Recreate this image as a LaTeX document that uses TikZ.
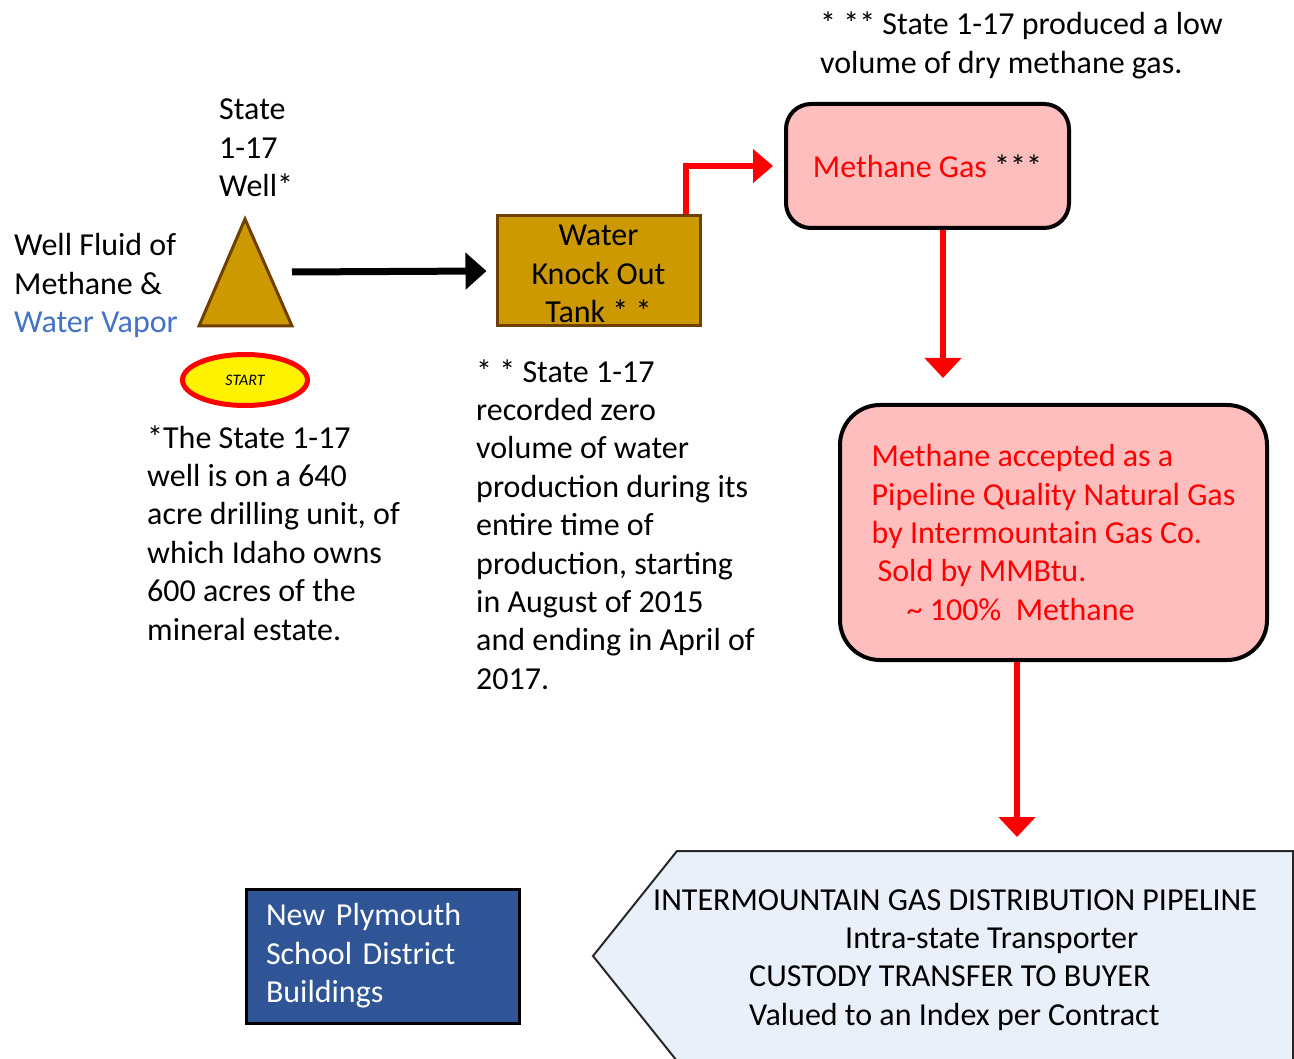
\documentclass[tikz,border=0pt]{standalone}
\usepackage{fontspec}
\setmainfont{Carlito}
\usetikzlibrary{arrows.meta,calc,shapes.geometric}
\definecolor{gold}{RGB}{204,153,0}
\definecolor{brownb}{RGB}{112,64,0}
\definecolor{pinkf}{RGB}{255,190,190}
\definecolor{bluet}{RGB}{68,114,196}
\definecolor{navy}{RGB}{47,85,151}
\definecolor{paleblue}{RGB}{233,240,249}
\begin{document}
\begin{tikzpicture}[x=1pt,y=-1pt,
  bigfont/.style={font=\fontsize{32}{38.4}\selectfont},
  txt/.style={bigfont, inner sep=0pt, anchor=base west, align=left},
  blackarrow/.style={line width=7pt, -{Triangle[length=21pt,width=36pt]}},
  redarrow/.style={draw=red, line width=6pt, -{Triangle[length=20pt,width=36pt]}},
  redelbow/.style={draw=red, line width=6pt, -{Triangle[length=20pt,width=33pt]}},
  goldbox/.style={draw=brownb, fill=gold, line width=3pt},
  pinkbox/.style={draw=black, fill=pinkf, line width=4pt, bigfont},
]
\useasboundingbox (0,0) rectangle (1294,1059);
\clip (0,0) rectangle (1294,1059);

% well triangle
\draw[goldbox] (245,219) -- (292,326) -- (199,326) -- cycle;
\coordinate (trir) at (292,272);

% start ellipse
\node (start) [ellipse, draw=red, fill=yellow, line width=5pt, minimum width=125pt, minimum height=51pt, inner sep=0pt, font=\itshape\fontsize{16}{18}\selectfont] at (245,380) {START};

% tank
\node (tank) [goldbox, rectangle, minimum width=203pt, minimum height=110pt, inner sep=0pt, align=center, bigfont] at (598.5,271) {\rule{0pt}{27pt}Water\\Knock Out\\Tank * *};

% methane gas
\node (meth) [pinkbox, rounded corners=25pt, minimum width=283pt, minimum height=124pt] at (927.5,166) {\textcolor{red}{Methane Gas} ***};

% accepted box
\node (accept) [pinkbox, rounded corners=40pt, minimum width=427pt, minimum height=255pt, align=left, text=red] at (1053.5,532.5) {Methane accepted as a\\Pipeline Quality Natural Gas\\by Intermountain Gas Co.\\\hspace*{6pt}Sold by MMBtu.\\\hspace*{35pt}\textasciitilde\ 100\%\ \ Methane};

% school box
\node (school) [draw=black, fill=navy, line width=3pt, minimum width=273pt, minimum height=134pt, text width=233pt, inner xsep=20pt, align=left, text=white, bigfont] at (382.5,956) {New Plymouth\\School District\\Buildings};

% pipeline pentagon
\draw[fill=paleblue, draw=black!85, line width=2pt] (677,851) -- (1293,851) -- (1293,1061) -- (677,1061) -- (593,956) -- cycle;
\node (pipetext) [txt] at (653,1025.2) {INTERMOUNTAIN GAS DISTRIBUTION PIPELINE\\\hspace*{192pt}Intra-state Transporter\\\hspace*{96pt}CUSTODY TRANSFER TO BUYER\\\hspace*{96pt}Valued to an Index per Contract};

% connectors
\coordinate (tk) at (686,0);
\coordinate (p1) at (943,378);
\coordinate (p2) at (1017,837);
\draw[blackarrow] (trir) -- ([xshift=-9pt]tank.west);
\draw[redelbow] (tank.north -| tk) |- ([xshift=-11pt]meth.west);
\draw[redarrow] (meth.south -| p1) -- (p1);
\draw[redarrow] (accept.south -| p2) -- (p2);

% texts (anchored at the baseline of the last line)
\node (wellname) [txt] at (219,196.8) {State\\1-17\\Well*};
\node (fluid) [txt] at (14,332.8) {Well Fluid of\\Methane \&\\\textcolor{bluet}{Water Vapor}};
\node (note1) [txt] at (147,640) {*The State 1-17\\well is on a 640\\acre drilling unit, of\\which Idaho owns\\600 acres of the\\mineral estate.};
\node (note2) [txt] at (476,689.2) {* * State 1-17\\recorded zero\\volume of water\\production during its\\entire time of\\production, starting\\in August of 2015\\and ending in April of\\2017.};
\node (note3) [txt] at (820,73.4) {* ** State 1-17 produced a low\\volume of dry methane gas.};
\end{tikzpicture}
\end{document}
